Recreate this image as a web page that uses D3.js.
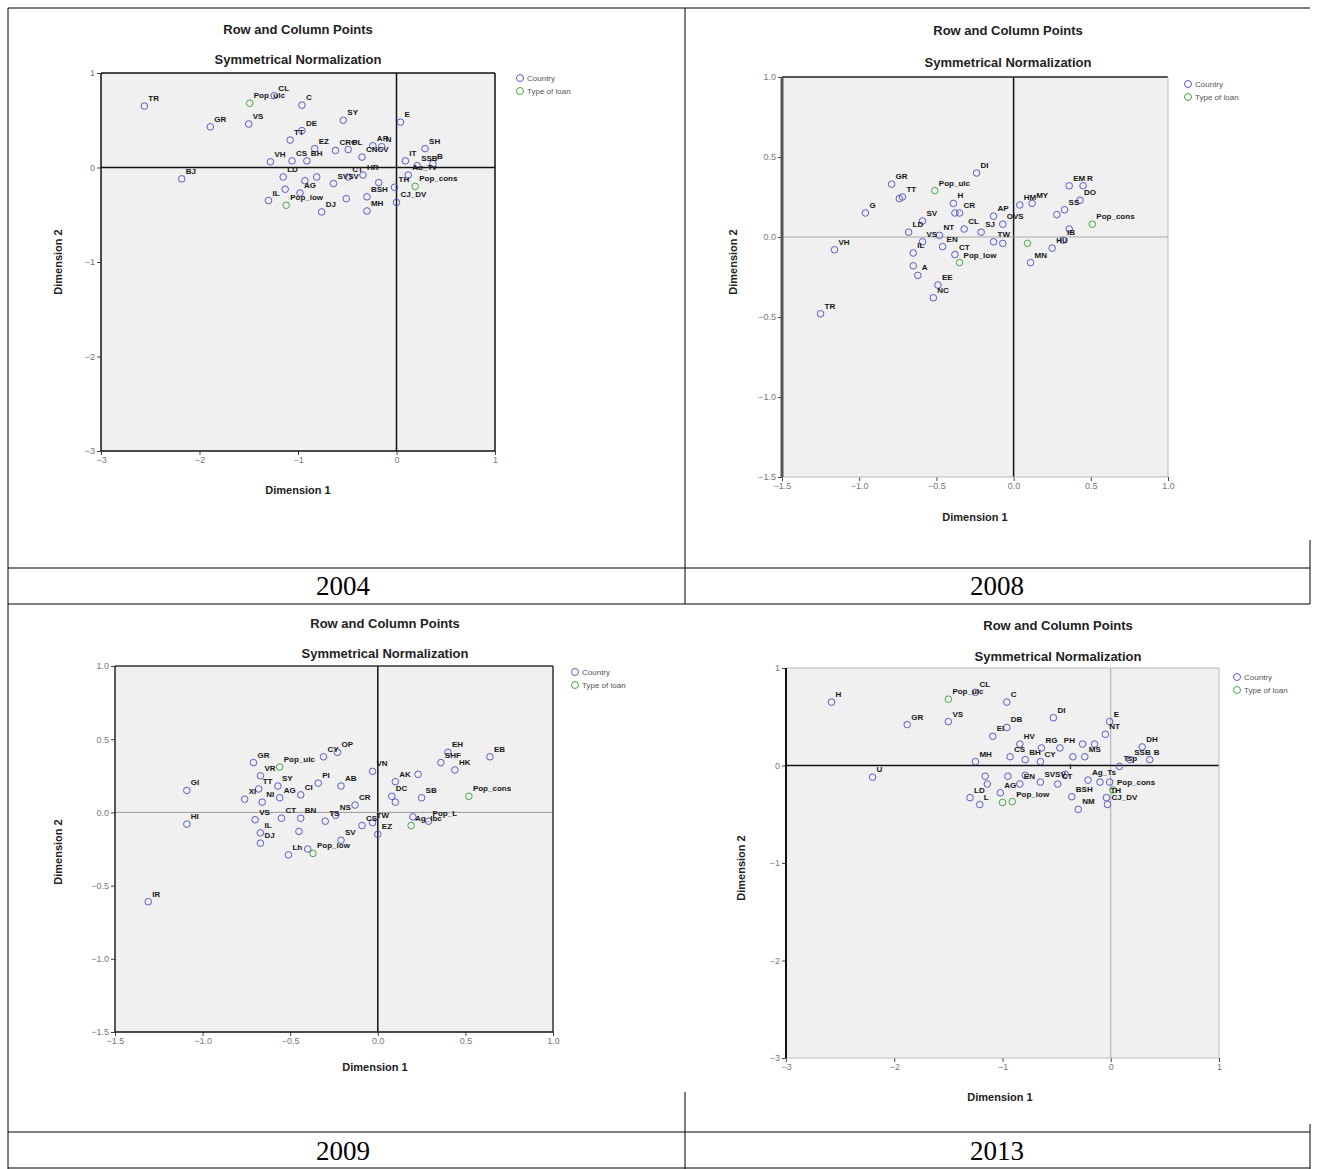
<!doctype html>
<html>
<head>
<meta charset="utf-8">
<script src="https://d3js.org/d3.v7.min.js"></script>
<style>
  body { margin: 0; background: #fff; }
  svg { display: block; }
  .ptlab { font-family: "Liberation Sans", Arial, sans-serif; font-size: 8px; font-weight: bold; fill: #151515; }
  .title { font-family: "Liberation Sans", Arial, sans-serif; font-size: 13px; font-weight: bold; fill: #222; }
  .axt { font-family: "Liberation Sans", Arial, sans-serif; font-size: 11px; font-weight: bold; fill: #222; }
  .tick text { font-family: "Liberation Sans", Arial, sans-serif; font-size: 9px; fill: #777; }
  .leg { font-family: "Liberation Sans", Arial, sans-serif; font-size: 8px; fill: #555; }
  .year { font-family: "Liberation Serif", "Times New Roman", serif; font-size: 27px; fill: #000; }
</style>
</head>
<body>
<svg id="chart" width="1317" height="1169"></svg>
<script>
// ---- data (approximate) ----
// type: 0 = Country, 1 = Type of loan; "" = point drawn without a label
var p2004Labels = ["TR","Pop_ulc","CL","C","GR","VS","DE","SY","E","TT","EZ","PL","N","SH","B","VH","CS","BH","CRG","AR","IT","SSB","CNCV","BJ","LD","","IL","","","AG","Pop_low","DJ","SVSV","CT","HR","BSH","","TH","Au_Tv","Pop_cons","CJ_DV","MH",""];
var p2004X = [-2.56,-1.49,-1.24,-0.96,-1.89,-1.50,-0.96,-0.54,0.04,-1.08,-0.83,-0.49,-0.15,0.29,0.37,-1.28,-1.06,-0.91,-0.62,-0.24,0.09,0.21,-0.35,-2.18,-1.15,-1.13,-1.30,-0.93,-0.81,-0.98,-1.12,-0.76,-0.64,-0.49,-0.34,-0.30,-0.18,-0.02,0.12,0.19,0.00,-0.30,-0.51];
var p2004Y = [0.65,0.68,0.76,0.66,0.43,0.46,0.39,0.50,0.48,0.29,0.20,0.19,0.22,0.20,0.04,0.06,0.07,0.07,0.18,0.23,0.07,0.02,0.11,-0.12,-0.10,-0.23,-0.35,-0.14,-0.10,-0.27,-0.40,-0.47,-0.17,-0.10,-0.08,-0.31,-0.16,-0.21,-0.08,-0.20,-0.37,-0.46,-0.33];
var p2004Type = [0,1,0,0,0,0,0,0,0,0,0,0,0,0,0,0,0,0,0,0,0,0,0,0,0,0,0,0,0,0,1,0,0,0,0,0,0,0,0,1,0,0,0];

var p2008Labels = ["DI","GR","TT","Pop_ulc","H","CR","G","SV","HM","MY","EM","R","DO","SS","Pop_cons","AP","LD","VH","NT","CL","SJ","OVS","IL","VS","","EN","CT","Pop_low","TW","","","MN","HU","IB","","","A","EE","NC","TR","",""];
var p2008X = [-0.24,-0.79,-0.72,-0.51,-0.39,-0.35,-0.96,-0.59,0.04,0.12,0.36,0.45,0.43,0.33,0.51,-0.13,-0.68,-1.16,-0.48,-0.32,-0.21,-0.07,-0.65,-0.59,-0.65,-0.46,-0.38,-0.35,-0.13,-0.07,0.09,0.11,0.25,0.32,0.28,0.36,-0.62,-0.49,-0.52,-1.25,-0.38,-0.74];
var p2008Y = [0.40,0.33,0.25,0.29,0.21,0.15,0.15,0.10,0.20,0.21,0.32,0.32,0.23,0.17,0.08,0.13,0.03,-0.08,0.01,0.05,0.03,0.08,-0.10,-0.03,-0.18,-0.06,-0.11,-0.16,-0.03,-0.04,-0.04,-0.16,-0.07,-0.02,0.14,0.05,-0.24,-0.30,-0.38,-0.48,0.15,0.24];
var p2008Type = [0,0,0,1,0,0,0,0,0,0,0,0,0,0,1,0,0,0,0,0,0,0,0,0,0,0,0,1,0,0,1,0,0,0,0,0,0,0,0,0,0,0];

var p2009Labels = ["EB","EH","SHF","HK","","SB","Pop_cons","DC","","VN","AK","Pop_L","","CR","AB","PI","OP","CY","Pop_ulc","GR","VR","GI","TT","SY","CI","XI","NI","AG","NS","HI","VS","IL","CT","BN","TS","CS","TW","SV","Ag_lbc","EZ","Pop_low","","DJ","Lh","IR",""];
var p2009X = [0.64,0.40,0.36,0.44,0.23,0.25,0.52,0.08,0.10,-0.03,0.10,0.29,0.20,-0.13,-0.21,-0.34,-0.23,-0.31,-0.56,-0.71,-0.67,-1.09,-0.68,-0.57,-0.44,-0.76,-0.66,-0.56,-0.24,-1.09,-0.70,-0.67,-0.55,-0.44,-0.30,-0.09,-0.03,-0.21,0.19,0.00,-0.37,-0.40,-0.67,-0.51,-1.31,-0.45];
var p2009Y = [0.38,0.41,0.34,0.29,0.26,0.10,0.11,0.11,0.07,0.28,0.21,-0.06,-0.03,0.05,0.18,0.20,0.41,0.38,0.31,0.34,0.25,0.15,0.16,0.18,0.12,0.09,0.07,0.10,-0.02,-0.08,-0.05,-0.14,-0.04,-0.04,-0.06,-0.09,-0.07,-0.19,-0.09,-0.15,-0.28,-0.25,-0.21,-0.29,-0.61,-0.13];
var p2009Type = [0,0,0,0,0,0,1,0,0,0,0,0,0,0,0,0,0,0,1,0,0,0,0,0,0,0,0,0,0,0,0,0,0,0,0,0,0,0,1,0,1,0,0,0,0,0];

var p2013Labels = ["H","Pop_ulc","CL","C","DI","E","GR","VS","DB","EI","HV","PH","NT","DH","B","MH","CS","BH","RG","","","SSB","MS","CY","","Tsp","U","I","","","","","Ag_Ts","","","LD","AG","EN","SVSV","CT","TH","Pop_cons","BSH","L","","Pop_low","NM","CJ_DV"];
var p2013X = [-2.58,-1.50,-1.25,-0.96,-0.53,-0.01,-1.88,-1.50,-0.96,-1.09,-0.84,-0.47,-0.05,0.29,0.36,-1.25,-0.93,-0.79,-0.64,-0.26,-0.15,0.18,-0.24,-0.65,-0.35,0.08,-2.20,-0.42,-1.16,-1.14,-0.95,-0.79,-0.21,-0.10,-0.01,-1.30,-1.02,-0.84,-0.65,-0.49,-0.04,0.02,-0.36,-1.21,-1.00,-0.91,-0.30,-0.03];
var p2013Y = [0.65,0.68,0.75,0.65,0.49,0.45,0.42,0.45,0.39,0.30,0.22,0.18,0.32,0.19,0.06,0.04,0.09,0.06,0.18,0.22,0.22,0.06,0.09,0.04,0.09,-0.01,-0.12,-0.09,-0.11,-0.19,-0.11,-0.10,-0.15,-0.17,-0.17,-0.33,-0.28,-0.19,-0.17,-0.19,-0.33,-0.25,-0.32,-0.40,-0.38,-0.37,-0.45,-0.40];
var p2013Type = [0,1,0,0,0,0,0,0,0,0,0,0,0,0,0,0,0,0,0,0,0,0,0,0,0,0,0,0,0,0,0,0,0,0,0,0,0,0,0,0,0,1,0,0,1,1,0,0];

var ticksWide = [-3, -2, -1, 0, 1];
var ticksNarrow = [-1.5, -1.0, -0.5, 0.0, 0.5, 1.0];
var years = ["2004", "2008", "2009", "2013"];
var legendNames = ["Country", "Type of loan"];

var countryColor = "#5b5bc9";
var loanColor = "#43a843";

var svg = d3.select("#chart");

// table grid of the page
var grid = svg.append("g").attr("stroke", "#000").attr("stroke-width", 1);
[[8, 8, 1310, 8], [8, 568, 1310, 568], [8, 604, 1310, 604], [8, 1132, 1310, 1132], [8, 1168, 1310, 1168],
 [8, 8, 8, 1169], [685, 8, 685, 604], [685, 1092, 685, 1169], [1310, 540, 1310, 604], [1310, 1124, 1310, 1169]]
  .forEach(function (l) {
    grid.append("line").attr("x1", l[0]).attr("y1", l[1]).attr("x2", l[2]).attr("y2", l[3]);
  });

var yearPos = [[343, 595], [997, 595], [343, 1160], [997, 1160]];
years.forEach(function (y, i) {
  svg.append("text").attr("class", "year").attr("x", yearPos[i][0]).attr("y", yearPos[i][1])
    .attr("text-anchor", "middle").text(y);
});

// each panel: layout + line styles
var panels = [
  { labels: p2004Labels, xs: p2004X, ys: p2004Y, types: p2004Type, ticks: ticksWide, fmt: d3.format("d"),
    l: 101, r: 495, t: 73, b: 451, cx: 298, t1: 34, t2: 64, xl: [298, 494], yl: [62, 262], leg: [520, 78],
    sL: ["#111", 1.5], sT: ["#111", 1.5], sR: ["#111", 1.5], sB: ["#111", 1.5], z0x: ["#111", 1.5], z0y: ["#111", 1.5] },
  { labels: p2008Labels, xs: p2008X, ys: p2008Y, types: p2008Type, ticks: ticksNarrow, fmt: d3.format(".1f"),
    l: 782, r: 1168, t: 77, b: 477, cx: 1008, t1: 35, t2: 67, xl: [975, 521], yl: [737, 262], leg: [1188, 84],
    sL: ["#555", 3], sT: ["#222", 1.5], sR: ["#bbb", 1], sB: ["#bbb", 1], z0x: ["#111", 1.5], z0y: ["#aaa", 1] },
  { labels: p2009Labels, xs: p2009X, ys: p2009Y, types: p2009Type, ticks: ticksNarrow, fmt: d3.format(".1f"),
    l: 115, r: 553, t: 666, b: 1032, cx: 385, t1: 628, t2: 658, xl: [375, 1071], yl: [62, 852], leg: [575, 672],
    sL: ["#222", 1.5], sT: ["#333", 1.5], sR: ["#333", 1.5], sB: ["#111", 1.5], z0x: ["#111", 1.5], z0y: ["#999", 1] },
  { labels: p2013Labels, xs: p2013X, ys: p2013Y, types: p2013Type, ticks: ticksWide, fmt: d3.format("d"),
    l: 786, r: 1219, t: 668, b: 1058, cx: 1058, t1: 630, t2: 661, xl: [1000, 1101], yl: [745, 868], leg: [1237, 677],
    sL: ["#111", 2], sT: ["#bbb", 1], sR: ["#bbb", 1], sB: ["#bbb", 1], z0x: ["#aaa", 1], z0y: ["#111", 1.5] }
];

panels.forEach(drawPanel);

function drawPanel(p) {
  var x = d3.scaleLinear().domain(d3.extent(p.ticks)).range([p.l, p.r]);
  var y = d3.scaleLinear().domain(d3.extent(p.ticks)).range([p.b, p.t]);
  var g = svg.append("g");

  g.append("rect").attr("x", p.l).attr("y", p.t).attr("width", p.r - p.l).attr("height", p.b - p.t)
    .attr("fill", "#f0f0f0");

  // ticks
  g.append("g").attr("transform", "translate(" + p.l + ",0)")
    .call(d3.axisLeft(y).tickValues(p.ticks).tickFormat(p.fmt).tickSize(4).tickPadding(2))
    .call(function (a) { a.select(".domain").remove(); a.selectAll(".tick line").attr("stroke", "#444"); });
  g.append("g").attr("transform", "translate(0," + p.b + ")")
    .call(d3.axisBottom(x).tickValues(p.ticks).tickFormat(p.fmt).tickSize(4).tickPadding(2))
    .call(function (a) { a.select(".domain").remove(); a.selectAll(".tick line").attr("stroke", "#444"); });

  // reference lines at 0
  g.append("line").attr("x1", x(0)).attr("x2", x(0)).attr("y1", p.t).attr("y2", p.b)
    .attr("stroke", p.z0x[0]).attr("stroke-width", p.z0x[1]);
  g.append("line").attr("x1", p.l).attr("x2", p.r).attr("y1", y(0)).attr("y2", y(0))
    .attr("stroke", p.z0y[0]).attr("stroke-width", p.z0y[1]);

  // frame
  [[p.l, p.t, p.r, p.t, p.sT], [p.r, p.t, p.r, p.b, p.sR], [p.l, p.b, p.r, p.b, p.sB], [p.l, p.t, p.l, p.b, p.sL]]
    .forEach(function (s) {
      g.append("line").attr("x1", s[0]).attr("y1", s[1]).attr("x2", s[2]).attr("y2", s[3])
        .attr("stroke", s[4][0]).attr("stroke-width", s[4][1]);
    });

  // points
  var pts = p.labels.map(function (lab, i) { return { lab: lab, x: p.xs[i], y: p.ys[i], t: p.types[i] }; });
  g.selectAll("circle.pt").data(pts).enter().append("circle").attr("class", "pt")
    .attr("cx", function (d) { return x(d.x); })
    .attr("cy", function (d) { return y(d.y); })
    .attr("r", 3.3)
    .attr("fill", "none")
    .attr("stroke", function (d) { return d.t ? loanColor : countryColor; })
    .attr("stroke-width", 1);
  g.selectAll("text.ptlab").data(pts.filter(function (d) { return d.lab; })).enter()
    .append("text").attr("class", "ptlab")
    .attr("x", function (d) { return x(d.x) + 4; })
    .attr("y", function (d) { return y(d.y) - 5; })
    .text(function (d) { return d.lab; });

  // titles
  g.append("text").attr("class", "title").attr("x", p.cx).attr("y", p.t1).attr("text-anchor", "middle")
    .text("Row and Column Points");
  g.append("text").attr("class", "title").attr("x", p.cx).attr("y", p.t2).attr("text-anchor", "middle")
    .text("Symmetrical Normalization");
  g.append("text").attr("class", "axt").attr("x", p.xl[0]).attr("y", p.xl[1]).attr("text-anchor", "middle")
    .text("Dimension 1");
  g.append("text").attr("class", "axt").attr("text-anchor", "middle")
    .attr("transform", "translate(" + p.yl[0] + "," + p.yl[1] + ") rotate(-90)")
    .text("Dimension 2");

  // legend
  legendNames.forEach(function (n, i) {
    g.append("circle").attr("cx", p.leg[0]).attr("cy", p.leg[1] + i * 13).attr("r", 3.5)
      .attr("fill", "none").attr("stroke", i ? loanColor : countryColor).attr("stroke-width", 1);
    g.append("text").attr("class", "leg").attr("x", p.leg[0] + 7).attr("y", p.leg[1] + i * 13 + 3).text(n);
  });
}
</script>
</body>
</html>
